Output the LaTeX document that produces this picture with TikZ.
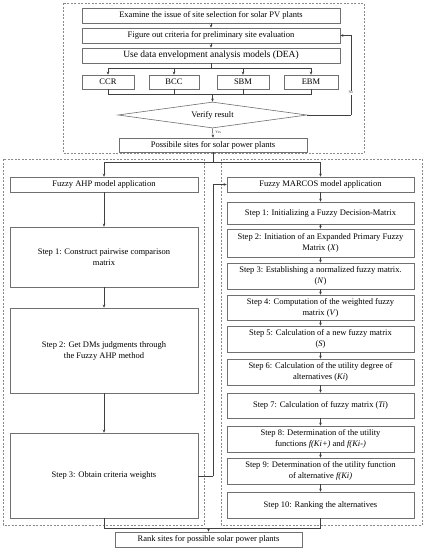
\documentclass[tikz,border=0pt]{standalone}
\usepackage{fontspec}
\setmainfont{Liberation Serif}
\usetikzlibrary{shapes.geometric,arrows.meta}
\definecolor{boxc}{HTML}{707070}
\definecolor{linec}{HTML}{404040}
\definecolor{dashc}{HTML}{8A8A8A}
\begin{document}
\begin{tikzpicture}[x=1pt,y=-1pt,
  box/.style={draw=boxc,line width=0.6pt,inner sep=1pt,align=center,font=\fontsize{8.5}{11}\selectfont,text=black},
  dbox/.style={draw=dashc,line width=0.6pt,dash pattern=on 2pt off 1.5pt},
  ln/.style={draw=linec,line width=0.5pt},
  arr/.style={ln,-{Stealth[length=3pt,width=2.6pt]}},
  lbl/.style={font=\fontsize{3.8}{4}\selectfont,inner sep=0.5pt,text=linec}
]
\useasboundingbox (0,0) rectangle (425,550);
\fill[white] (0,0) rectangle (425,550);
% dashed frames
\draw[dbox] (63,3) rectangle (364,153);
\draw[dbox] (3,159) rectangle (204,525);
\draw[dbox] (221,159) rectangle (422,525);
% top section
\node[box,minimum width=258pt,minimum height=15pt] (exam) at (211,15.5) {Examine the issue of site selection for solar PV plants};
\node[box,minimum width=258pt,minimum height=15pt] (fig) at (211,35.5) {Figure out criteria for preliminary site evaluation};
\node[box,minimum width=258pt,minimum height=15pt,font=\fontsize{9.5}{11}\selectfont] (dea) at (211,55.5) {Use data envelopment analysis models (DEA)};
\node[box,minimum width=52pt,minimum height=14pt] (ccr) at (108,82) {CCR};
\node[box,minimum width=50pt,minimum height=14pt] (bcc) at (174,82) {BCC};
\node[box,minimum width=52pt,minimum height=14pt] (sbm) at (243,82) {SBM};
\node[box,minimum width=54pt,minimum height=14pt] (ebm) at (311,82) {EBM};
\node[box,diamond,aspect=7,minimum width=189pt,minimum height=26pt,inner sep=0pt] (ver) at (212.5,115) {Verify result};
\node[box,minimum width=188pt,minimum height=14pt] (poss) at (213,145) {Possibile sites for solar power plants};
% left column
\node[box,minimum width=188pt,minimum height=15pt] (ahp) at (104,184.5) {Fuzzy AHP model application};
\node[box,minimum width=188pt,minimum height=60pt] (ls1) at (104,257) {Step 1: Construct pairwise comparison\\matrix};
\node[box,minimum width=188pt,minimum height=85pt] (ls2) at (104,350.5) {Step 2: Get DMs judgments through\\the Fuzzy AHP method};
\node[box,minimum width=188pt,minimum height=85pt] (ls3) at (104,475.5) {Step 3: Obtain criteria weights};
% right column
\node[box,minimum width=187pt,minimum height=15pt] (mar) at (320.5,184.5) {Fuzzy MARCOS model application};
\node[box,minimum width=187pt,minimum height=22pt] (s1) at (320.5,213) {Step 1: Initializing a Fuzzy Decision-Matrix};
\node[box,minimum width=187pt,minimum height=28pt] (s2) at (320.5,243) {Step 2: Initiation of an Expanded Primary Fuzzy\\Matrix (\textit{X})};
\node[box,minimum width=187pt,minimum height=26pt] (s3) at (320.5,276) {Step 3: Establishing a normalized fuzzy matrix.\\(\textit{N})};
\node[box,minimum width=187pt,minimum height=25pt] (s4) at (320.5,307.5) {Step 4: Computation of the weighted fuzzy\\matrix (\textit{V})};
\node[box,minimum width=187pt,minimum height=26pt] (s5) at (320.5,339) {Step 5: Calculation of a new fuzzy matrix\\(\textit{S})};
\node[box,minimum width=187pt,minimum height=26pt] (s6) at (320.5,372) {Step 6: Calculation of the utility degree of\\alternatives (\textit{Ki})};
\node[box,minimum width=187pt,minimum height=25pt] (s7) at (320.5,405.5) {Step 7: Calculation of fuzzy matrix (\textit{Ti})};
\node[box,minimum width=187pt,minimum height=26pt] (s8) at (320.5,439) {Step 8: Determination of the utility\\functions \textit{f(Ki+)} and \textit{f(Ki-)}};
\node[box,minimum width=187pt,minimum height=26pt] (s9) at (320.5,471) {Step 9: Determination of the utility function\\of alternative \textit{f(Ki)}};
\node[box,minimum width=187pt,minimum height=26pt] (s10) at (320.5,505) {Step 10: Ranking the alternatives};
% bottom
\node[box,minimum width=187pt,minimum height=15pt] (rank) at (208.5,539.5) {Rank sites for possible solar power plants};
% junction coordinates
\coordinate (j1) at (211,68);
\coordinate (j2) at (212.5,94);
\coordinate (j3) at (213,162);
\coordinate (j4) at (208.5,528.5);
\coordinate (nox) at (351,115);
\coordinate (fbx) at (213,476);
% connectors top
\draw[arr] (exam) -- (fig);
\draw[arr] (fig) -- (dea);
\draw[ln] (dea.south) -- (j1);
\draw[ln] (ccr.north |- j1) -- (ebm.north |- j1);
\draw[arr] (ccr.north |- j1) -- (ccr.north);
\draw[arr] (bcc.north |- j1) -- (bcc.north);
\draw[arr] (sbm.north |- j1) -- (sbm.north);
\draw[arr] (ebm.north |- j1) -- (ebm.north);
\draw[ln] (ccr.south) -- (ccr.south |- j2) -- (ebm.south |- j2) -- (ebm.south);
\draw[ln] (bcc.south) -- (bcc.south |- j2);
\draw[ln] (sbm.south) -- (sbm.south |- j2);
\draw[arr] (j2) -- (ver.north);
\draw[arr] (ver.south) -- node[lbl,right,pos=0.45,xshift=2pt] {Yes} (poss.north);
\draw[ln] (ver.east) -- (nox);
\draw[arr] (nox) |- node[lbl,pos=0.14,fill=white] {No} (fig.east);
% split to the two methods
\draw[ln] (poss.south) -- (j3);
\draw[ln] (ahp.north |- j3) -- (mar.north |- j3);
\draw[arr] (ahp.north |- j3) -- (ahp.north);
\draw[arr] (mar.north |- j3) -- (mar.north);
% left chain
\draw[arr] (ahp) -- (ls1);
\draw[arr] (ls1) -- (ls2);
\draw[arr] (ls2) -- (ls3);
\draw[ln] (ls3.east |- fbx) -- (fbx);
\draw[arr] (fbx) |- (mar.west);
% right chain
\draw[arr] (mar) -- (s1);
\draw[arr] (s1) -- (s2);
\draw[arr] (s2) -- (s3);
\draw[arr] (s3) -- (s4);
\draw[arr] (s4) -- (s5);
\draw[arr] (s5) -- (s6);
\draw[arr] (s6) -- (s7);
\draw[arr] (s7) -- (s8);
\draw[arr] (s8) -- (s9);
\draw[arr] (s9) -- (s10);
% merge to rank
\draw[ln] (ls3.south) -- (ls3.south |- j4) -- (s10.south |- j4) -- (s10.south);
\draw[arr] (j4) -- (rank.north);
\end{tikzpicture}
\end{document}
